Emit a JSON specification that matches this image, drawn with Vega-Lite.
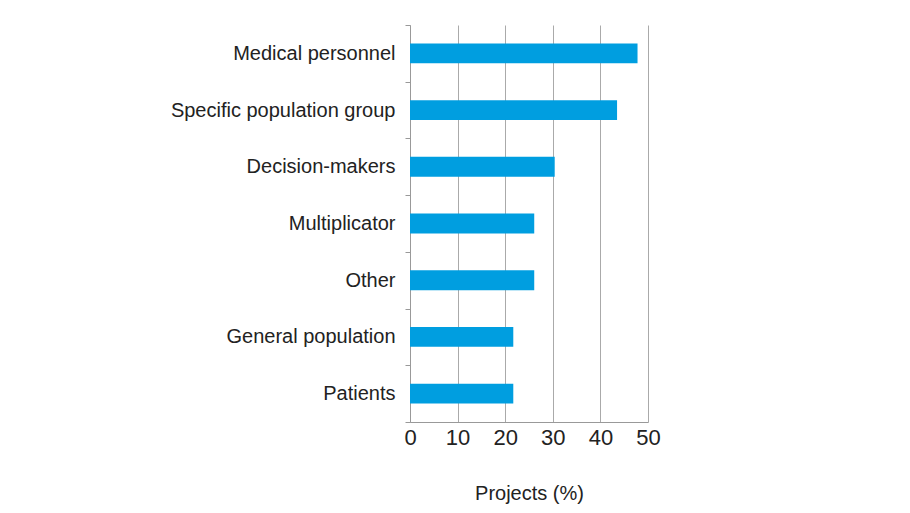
{
  "$schema": "https://vega.github.io/schema/vega-lite/v6.json",
  "width": 238,
  "height": 397,
  "padding": {"left": 170, "top": 15, "right": 5, "bottom": 5},
  "background": "white",
  "data": {
    "values": [
      {"group": "Medical personnel", "value": 47.8},
      {"group": "Specific population group", "value": 43.5},
      {"group": "Decision-makers", "value": 30.4},
      {"group": "Multiplicator", "value": 26.1},
      {"group": "Other", "value": 26.1},
      {"group": "General population", "value": 21.7},
      {"group": "Patients", "value": 21.7}
    ]
  },
  "mark": {"type": "bar", "color": "#009ee0", "height": {"band": 0.35}},
  "encoding": {
    "y": {
      "field": "group",
      "type": "nominal",
      "sort": null,
      "scale": {"paddingInner": 0, "paddingOuter": 0},
      "axis": {
        "title": null,
        "labelFont": "Liberation Sans",
        "labelFontSize": 20,
        "labelColor": "#222222",
        "labelPadding": 10,
        "tickBand": "extent",
        "tickSize": 5,
        "tickColor": "#999999",
        "domainColor": "#999999",
        "labelLimit": 400
      }
    },
    "x": {
      "field": "value",
      "type": "quantitative",
      "scale": {"domain": [0, 50], "nice": false},
      "axis": {
        "title": "Projects (%)",
        "values": [0, 10, 20, 30, 40, 50],
        "ticks": false,
        "grid": true,
        "gridColor": "#aaaaaa",
        "domainColor": "#999999",
        "labelFlush": false,
        "labelFont": "Liberation Sans",
        "labelFontSize": 22,
        "labelColor": "#222222",
        "labelPadding": 5,
        "titleFont": "Liberation Sans",
        "titleFontSize": 20,
        "titleFontWeight": "normal",
        "titleColor": "#222222",
        "titlePadding": 35
      }
    }
  },
  "config": {
    "view": {"stroke": null},
    "axis": {"domainWidth": 1, "gridWidth": 1}
  }
}
